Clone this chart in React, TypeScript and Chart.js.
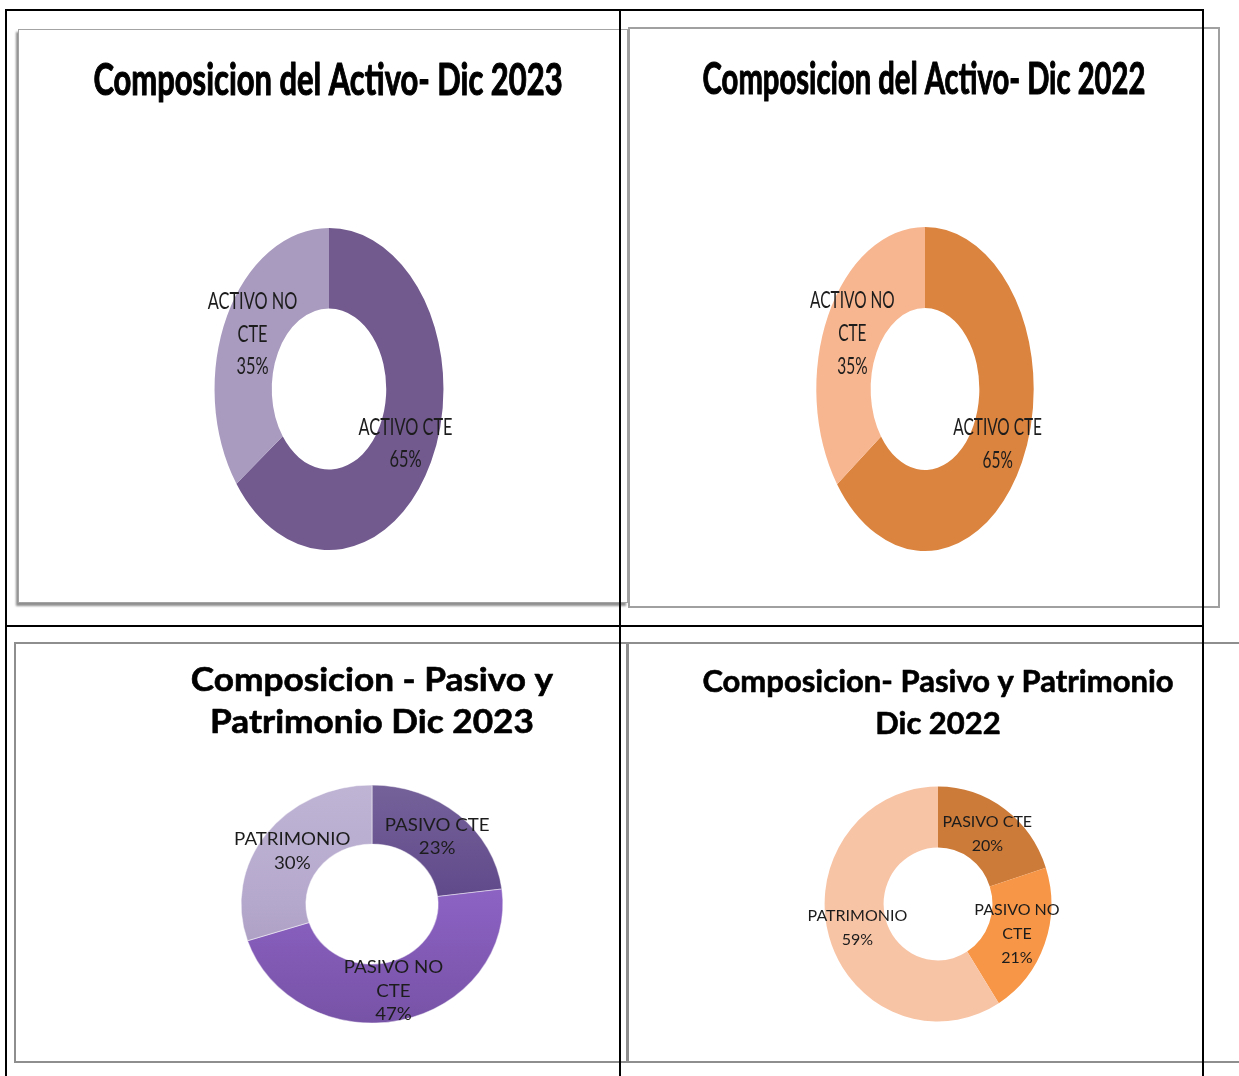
import React, { useEffect, useRef } from "react";
import { Chart, registerables } from "chart.js";

Chart.register(...registerables);

// ---------- DATA ----------
const activoCategories: string[][] = [["ACTIVO CTE"], ["ACTIVO NO", "CTE"]];
const activo2023Values: number[] = [65, 35];
const activo2022Values: number[] = [65, 35];

const pasivoCategories: string[][] = [["PASIVO CTE"], ["PASIVO NO", "CTE"], ["PATRIMONIO"]];
const pasivo2023Values: number[] = [23, 47, 30];
const pasivo2022Values: number[] = [20, 21, 59];

const activo2023Colors: string[] = ["#725A8F", "#A99BBF"];
const activo2022Colors: string[] = ["#DB843F", "#F7B690"];
const pasivo2023Colors: string[] = ["#5F4889", "#8A60C1", "#B5A8CD"];
const pasivo2022Colors: string[] = ["#CD7B39", "#F79646", "#F8C4A6"];

const titleActivo2023: string[] = ["Composicion del Activo- Dic 2023"];
const titleActivo2022: string[] = ["Composicion del Activo- Dic 2022"];
const titlePasivo2023: string[] = ["Composicion - Pasivo y", "Patrimonio Dic 2023"];
const titlePasivo2022: string[] = ["Composicion- Pasivo y Patrimonio", "Dic 2022"];

// ---------- helpers ----------
function shade(hex: string, amt: number): string {
  const n = parseInt(hex.slice(1), 16);
  let r = (n >> 16) & 255, g = (n >> 8) & 255, b = n & 255;
  const f = (c: number) => {
    const v = amt >= 0 ? c + (255 - c) * amt : c * (1 + amt);
    return Math.max(0, Math.min(255, Math.round(v)));
  };
  r = f(r); g = f(g); b = f(b);
  return `rgb(${r},${g},${b})`;
}

const FONT = '"Lato", "Open Sans", "Liberation Sans", sans-serif';

const panelPlugin = {
  id: "panelDecor",
  beforeDatasetsDraw(chart: any, _args: any, opts: any) {
    const arc = chart.getDatasetMeta(0).data[0];
    if (!arc) return;
    const ctx = chart.ctx;
    ctx.save();
    ctx.translate(arc.x, arc.y);
    ctx.scale(opts.sx, 1);
    ctx.translate(-arc.x, -arc.y);
  },
  afterDatasetsDraw(chart: any, _args: any, opts: any) {
    const meta = chart.getDatasetMeta(0);
    if (!meta.data[0]) return;
    const ctx = chart.ctx;
    ctx.restore();
    const ds = chart.data.datasets[0];
    meta.data.forEach((arc: any, i: number) => {
      const p = arc.getCenterPoint();
      const x = arc.x + (p.x - arc.x) * opts.sx;
      const y = p.y;
      const lab = chart.data.labels[i];
      const lines = [...(Array.isArray(lab) ? lab : [lab]), `${ds.data[i]}%`];
      ctx.save();
      ctx.font = `${opts.labelSize}px ${FONT}`;
      ctx.fillStyle = "#1c1c1c";
      ctx.textAlign = "center";
      ctx.textBaseline = "middle";
      ctx.translate(x, y);
      ctx.scale(opts.textSx, 1);
      const n = lines.length;
      lines.forEach((ln: string, k: number) => {
        ctx.fillText(ln, 0, (k - (n - 1) / 2) * opts.lineHeight);
      });
      ctx.restore();
    });
    // title
    const t = opts.title;
    ctx.save();
    ctx.font = `bold ${t.size}px ${FONT}`;
    ctx.fillStyle = "#000";
    ctx.strokeStyle = "#000";
    ctx.lineWidth = t.stroke;
    ctx.lineJoin = "round";
    ctx.textAlign = "center";
    ctx.textBaseline = "alphabetic";
    t.lines.forEach((ln: string, k: number) => {
      ctx.save();
      ctx.translate(t.x, t.y + k * t.lineHeight);
      ctx.scale(t.sx, 1);
      ctx.fillText(ln, 0, 0);
      if (t.stroke > 0) ctx.strokeText(ln, 0, 0);
      ctx.restore();
    });
    ctx.restore();
  },
};

type Spec = {
  l: number; t: number; w: number; h: number;
  cx: number; cy: number; r: number; cutout: string; sx: number;
  labels: string[][]; values: number[]; colors: string[]; gradient?: boolean;
  labelSize: number; lineHeight: number; textSx: number;
  title: { lines: string[]; x: number; y: number; size: number; lineHeight: number; sx: number; stroke: number };
};

function DonutPanel({ spec }: { spec: Spec }) {
  const ref = useRef<HTMLCanvasElement>(null);
  useEffect(() => {
    const s = spec;
    const pad = {
      left: s.cx - s.l - s.r,
      right: s.l + s.w - (s.cx + s.r),
      top: s.cy - s.t - s.r,
      bottom: s.t + s.h - (s.cy + s.r),
    };
    const bg = s.gradient
      ? (c: any) => {
          const base = s.colors[c.dataIndex];
          const area = c.chart.chartArea;
          if (!area) return base;
          const g = c.chart.ctx.createLinearGradient(0, area.top, 0, area.bottom);
          g.addColorStop(0, shade(base, 0.14));
          g.addColorStop(0.5, base);
          g.addColorStop(1, shade(base, -0.14));
          return g;
        }
      : s.colors;
    const chart = new Chart(ref.current as HTMLCanvasElement, {
      type: "doughnut",
      data: {
        labels: s.labels as any,
        datasets: [
          {
            data: s.values,
            backgroundColor: bg as any,
            borderWidth: s.gradient ? 1 : 0,
            borderColor: "rgba(255,255,255,0.45)",
            radius: s.r,
            cutout: s.cutout,
            clip: false as any,
          } as any,
        ],
      },
      options: {
        responsive: false,
        animation: false,
        events: [],
        layout: { padding: pad },
        plugins: {
          legend: { display: false },
          tooltip: { enabled: false },
          panelDecor: {
            sx: s.sx,
            labelSize: s.labelSize,
            lineHeight: s.lineHeight,
            textSx: s.textSx,
            title: {
              lines: s.title.lines,
              x: s.title.x - s.l,
              y: s.title.y - s.t,
              size: s.title.size,
              lineHeight: s.title.lineHeight,
              sx: s.title.sx,
              stroke: s.title.stroke,
            },
          },
        } as any,
      },
      plugins: [panelPlugin as any],
    });
    return () => chart.destroy();
  }, []);
  return (
    <canvas
      ref={ref}
      width={spec.w}
      height={spec.h}
      style={{ position: "absolute", left: spec.l, top: spec.t, width: spec.w, height: spec.h }}
    />
  );
}

const specs: Spec[] = [
  {
    l: 20, t: 31, w: 599, h: 569,
    cx: 329, cy: 389, r: 161, cutout: "50%", sx: 0.711,
    labels: activoCategories, values: activo2023Values, colors: activo2023Colors,
    labelSize: 23, lineHeight: 32.5, textSx: 0.711,
    title: { lines: titleActivo2023, x: 328, y: 95, size: 43.5, lineHeight: 50, sx: 0.711, stroke: 1.1 },
  },
  {
    l: 630, t: 29, w: 572, h: 576,
    cx: 925, cy: 389, r: 162, cutout: "50%", sx: 0.671,
    labels: activoCategories, values: activo2022Values, colors: activo2022Colors,
    labelSize: 23, lineHeight: 33, textSx: 0.671,
    title: { lines: titleActivo2022, x: 924, y: 94, size: 43.5, lineHeight: 50, sx: 0.671, stroke: 1.1 },
  },
  {
    l: 16, t: 644, w: 602, h: 417,
    cx: 372, cy: 904, r: 119, cutout: "50.5%", sx: 1.1,
    labels: pasivoCategories, values: pasivo2023Values, colors: pasivo2023Colors, gradient: true,
    labelSize: 17, lineHeight: 23.5, textSx: 1.1,
    title: { lines: titlePasivo2023, x: 372, y: 691, size: 32, lineHeight: 42, sx: 1.1, stroke: 0.6 },
  },
  {
    l: 630, t: 644, w: 572, h: 417,
    cx: 938, cy: 904, r: 117.5, cutout: "48%", sx: 0.965,
    labels: pasivoCategories, values: pasivo2022Values, colors: pasivo2022Colors,
    labelSize: 16, lineHeight: 24, textSx: 1,
    title: { lines: titlePasivo2022, x: 938, y: 692, size: 31, lineHeight: 42, sx: 1, stroke: 0.6 },
  },
];

function Box(props: { l: number; t: number; w: number; h: number; style?: React.CSSProperties }) {
  return (
    <div
      style={{
        position: "absolute",
        left: props.l,
        top: props.t,
        width: props.w,
        height: props.h,
        boxSizing: "border-box",
        ...(props.style || {}),
      }}
    />
  );
}

export default function App() {
  return (
    <div
      style={{
        position: "absolute",
        left: 0,
        top: 0,
        width: 1239,
        height: 1076,
        overflow: "hidden",
        background: "#fff",
      }}
    >
      {/* chart frames */}
      <Box l={18} t={29} w={610} h={574}
        style={{ border: "1px solid #a3a3a3", boxShadow: "-2px 3px 2px #8f8f8f" }} />
      <Box l={628} t={27} w={592} h={581} style={{ border: "2px solid #a0a0a0" }} />
      <Box l={14} t={642} w={614} h={421} style={{ border: "2px solid #8e8e8e" }} />
      <Box l={627} t={642} w={612} h={421}
        style={{ borderTop: "2px solid #8e8e8e", borderBottom: "2px solid #8e8e8e", borderLeft: "2px solid #8e8e8e" }} />
      {/* table lines */}
      <Box l={5} t={9} w={1199} h={2} style={{ background: "#000" }} />
      <Box l={5} t={9} w={2} h={1067} style={{ background: "#000" }} />
      <Box l={619} t={9} w={2} h={1067} style={{ background: "#000" }} />
      <Box l={1202} t={9} w={2} h={1067} style={{ background: "#000" }} />
      <Box l={5} t={625} w={1199} h={2} style={{ background: "#000" }} />
      {specs.map((s, i) => (
        <DonutPanel key={i} spec={s} />
      ))}
    </div>
  );
}
